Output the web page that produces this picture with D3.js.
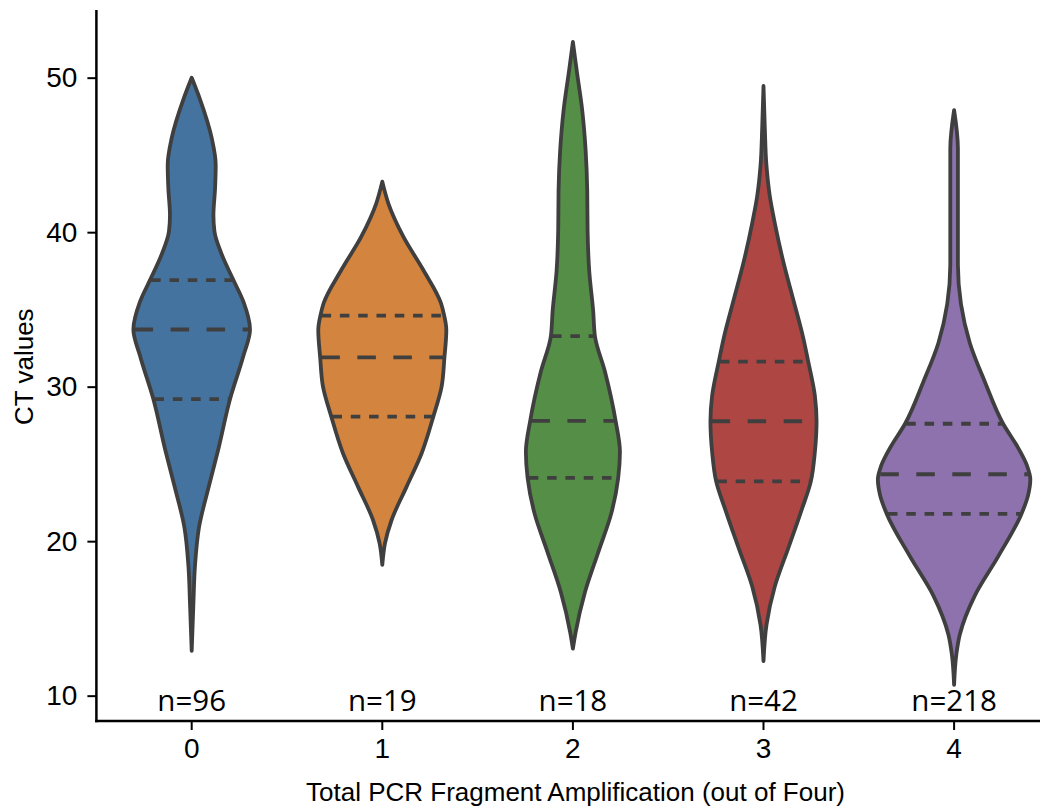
<!DOCTYPE html>
<html>
<head>
<meta charset="utf-8">
<script src="https://cdn.jsdelivr.net/npm/d3@7"></script>
<style>
  html, body { margin: 0; padding: 0; background: #ffffff; }
  svg { display: block; }
</style>
</head>
<body>
<div id="chart"></div>
<script>
// ---------- data ----------
const categories = ["0", "1", "2", "3", "4"];
const sampleSizes = [96, 19, 18, 42, 218];
const yTicks = [10, 20, 30, 40, 50];
const colors = ["#45739f", "#d3843e", "#558f47", "#ae4744", "#8d72ad"];

// quartiles of CT values (q1, median, q3)
const q1Values     = [29.2, 28.06, 24.09, 23.87, 21.76];
const medianValues = [33.7, 31.9, 27.79, 27.76, 24.33];
const q3Values     = [36.9, 34.6, 33.27, 31.62, 27.6];

// density profiles: CT value levels and relative density (violin half-width)
const ct0 = [50.0, 48.6, 46.1, 44.35, 42.8, 41.1, 40.06, 38.56, 36.9, 35.5, 33.7, 32.0, 29.2, 25.97, 23.44, 20.9, 18.4, 15.9, 12.9];
const dens0 = [0, 0.109, 0.262, 0.315, 0.306, 0.285, 0.298, 0.394, 0.547, 0.678, 0.765, 0.678, 0.503, 0.350, 0.219, 0.096, 0.043, 0.022, 0];

const ct1 = [43.27, 41.87, 39.71, 37.55, 35.4, 34.6, 33.67, 31.9, 30.0, 28.06, 25.69, 23.53, 21.37, 19.86, 18.46];
const dens1 = [0, 0.079, 0.276, 0.538, 0.770, 0.812, 0.840, 0.815, 0.778, 0.669, 0.516, 0.319, 0.122, 0.035, 0];

const ct2 = [52.31, 50.49, 47.9, 45.29, 42.69, 40.08, 37.49, 34.89, 33.27, 30.98, 27.79, 25.78, 24.09, 21.88, 19.28, 16.68, 14.08, 13.04];
const dens2 = [0, 0.049, 0.122, 0.167, 0.188, 0.193, 0.214, 0.266, 0.289, 0.420, 0.560, 0.617, 0.594, 0.508, 0.332, 0.157, 0.035, 0];

const ct3 = [49.46, 46.78, 44.3, 42.32, 40.59, 38.1, 35.64, 33.16, 31.62, 29.44, 27.76, 25.73, 23.87, 22.01, 19.53, 17.06, 14.58, 12.23];
const dens3 = [0, 0.017, 0.039, 0.083, 0.148, 0.259, 0.390, 0.521, 0.587, 0.673, 0.696, 0.673, 0.621, 0.499, 0.324, 0.148, 0.039, 0];

const ct4 = [47.9, 45.42, 41.65, 37.88, 35.35, 32.83, 30.32, 27.6, 26.04, 24.9, 24.0, 23.0, 21.76, 19.0, 16.48, 13.96, 12.7, 10.7];
const dens4 = [0, 0.05, 0.05, 0.05, 0.09, 0.206, 0.403, 0.643, 0.840, 0.955, 1.0, 0.972, 0.883, 0.577, 0.272, 0.075, 0.030, 0];

const ctLevels = [ct0, ct1, ct2, ct3, ct4];
const densities = [dens0, dens1, dens2, dens3, dens4];

const xTitle = "Total PCR Fragment Amplification (out of Four)";
const yTitle = "CT values";

// ---------- layout ----------
const W = 1040, H = 808;
const svg = d3.select("#chart").append("svg")
  .attr("width", W).attr("height", H);

const plotLeft = 96.4, plotTop = 10, plotBottom = 721;
const x = d3.scaleBand().domain(categories).range([plotLeft, plotLeft + 5 * 190.6]).padding(0);
const y = d3.scaleLinear().domain([8.36, 54.38]).range([plotBottom, plotTop]);
const w = d3.scaleLinear().domain([0, 1]).range([0, x.step() * 0.4]);

const lineColor = "#3f3f3f";
const tickFont = "'Liberation Sans', Arial, Helvetica, sans-serif";

// ---------- violins ----------
categories.forEach((c, i) => {
  const cx = x(c) + x.bandwidth() / 2;
  const pts = ctLevels[i].map((v, k) => ({ v, d: densities[i][k] }));
  const area = d3.area()
    .y(d => y(d.v))
    .x0(d => cx - w(d.d))
    .x1(d => cx + w(d.d))
    .curve(d3.curveMonotoneY);
  svg.append("path")
    .attr("d", area(pts))
    .attr("fill", colors[i])
    .attr("stroke", lineColor)
    .attr("stroke-width", 3.8)
    .attr("stroke-linejoin", "round");

  // density lookup by linear interpolation (levels are descending)
  const asc = pts.slice().reverse();
  const densAt = v => {
    for (let k = 0; k < asc.length - 1; k++) {
      const a = asc[k], b = asc[k + 1];
      if (v >= a.v && v <= b.v) {
        const t = (v - a.v) / (b.v - a.v);
        return a.d + t * (b.d - a.d);
      }
    }
    return 0;
  };

  const inner = [
    { v: q1Values[i], dash: "9.5 8.8" },
    { v: medianValues[i], dash: "18.5 17.5" },
    { v: q3Values[i], dash: "9.5 8.8" }
  ];
  inner.forEach(q => {
    const hw = w(densAt(q.v)) - 1.2;
    svg.append("line")
      .attr("x1", cx - hw).attr("x2", cx + hw)
      .attr("y1", y(q.v)).attr("y2", y(q.v))
      .attr("stroke", lineColor)
      .attr("stroke-width", 3.8)
      .attr("stroke-dasharray", q.dash);
  });

  // sample size label
  svg.append("text")
    .attr("x", cx)
    .attr("y", 710.5)
    .attr("text-anchor", "middle")
    .attr("font-family", "'Open Sans', 'Noto Sans', sans-serif")
    .attr("font-size", 29.5)
    .attr("fill", "#000")
    .text("n=" + sampleSizes[i]);
});

// ---------- axes ----------
const yAxis = d3.axisLeft(y).tickValues(yTicks).tickSize(9).tickPadding(10).tickFormat(d3.format("d"));
const gy = svg.append("g").attr("transform", `translate(${plotLeft},0)`).call(yAxis);
gy.select(".domain").remove();
gy.selectAll(".tick line").attr("stroke", "#000").attr("stroke-width", 2);
gy.selectAll(".tick text")
  .attr("font-family", tickFont).attr("font-size", 28).attr("fill", "#000");
svg.append("line")
  .attr("x1", plotLeft).attr("x2", plotLeft)
  .attr("y1", plotTop).attr("y2", plotBottom + 1.25)
  .attr("stroke", "#000").attr("stroke-width", 2.5);

const xAxis = d3.axisBottom(x).tickSize(9).tickPadding(8);
const gx = svg.append("g").attr("transform", `translate(0,${plotBottom})`).call(xAxis);
gx.select(".domain").remove();
gx.selectAll(".tick line").attr("stroke", "#000").attr("stroke-width", 2);
gx.selectAll(".tick text")
  .attr("font-family", tickFont).attr("font-size", 28).attr("fill", "#000");
svg.append("line")
  .attr("x1", plotLeft - 1.25).attr("x2", W)
  .attr("y1", plotBottom).attr("y2", plotBottom)
  .attr("stroke", "#000").attr("stroke-width", 2.5);

// ---------- titles ----------
svg.append("text")
  .attr("x", 575.5).attr("y", 801)
  .attr("text-anchor", "middle")
  .attr("font-family", tickFont).attr("font-size", 26).attr("fill", "#000")
  .text(xTitle);

svg.append("text")
  .attr("transform", "translate(33,366.7) rotate(-90)")
  .attr("text-anchor", "middle")
  .attr("font-family", tickFont).attr("font-size", 26).attr("fill", "#000")
  .text(yTitle);
</script>
</body>
</html>
